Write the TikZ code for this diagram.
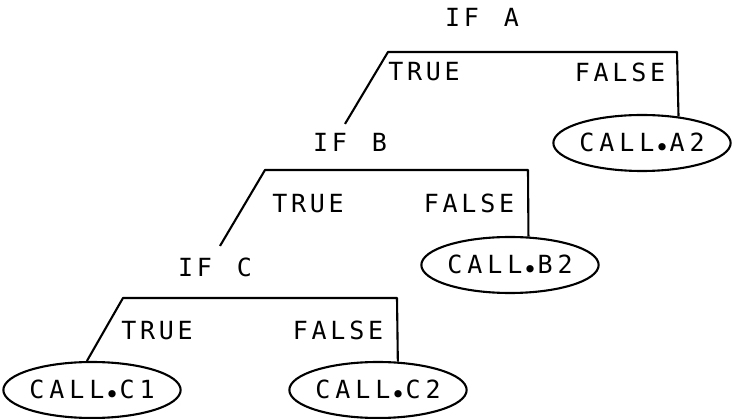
\documentclass[tikz,border=0pt]{standalone}
\usepackage{fontspec}
\usepackage{graphicx}
\newfontfamily\plotfont[LetterSpace=15]{DejaVu Sans Mono}
\newfontfamily\callfont[LetterSpace=20]{DejaVu Sans Mono}
\usetikzlibrary{shapes.geometric}
\newcommand\pdot{\raisebox{-0.17em}{•}}
\begin{document}
\begin{tikzpicture}[x=1pt,y=-1pt,line width=2.1pt,
  lbl/.style={font=\plotfont\fontsize{25}{25}\selectfont,text height=18pt,text depth=0pt,inner sep=0pt},
  callbox/.style={lbl,font=\callfont\fontsize{25}{25}\selectfont,draw,ellipse,minimum width=170pt,minimum height=56pt}]
\useasboundingbox (0,0) rectangle (734,419);
% decision labels
\node[lbl] (ifA) at (482,18) {IF\hspace{6pt} A};
\node[lbl] (ifB) at (350,143) {IF\hspace{6pt} B};
\node[lbl] (ifC) at (215,268) {IF\hspace{6pt} C};
% branch labels
\node[lbl] (tA) at (424,72) {TRUE};
\node[lbl] (fA) at (620,73) {FALSE};
\node[lbl] (tB) at (308,204) {TRUE};
\node[lbl] (fB) at (469,204) {FALSE};
\node[lbl] (tC) at (157,331) {TRUE};
\node[lbl] (fC) at (338,331) {FALSE};
% calls
\node[callbox] (cA2) at (642,143) {CALL\pdot A2};
\node[callbox] (cB2) at (510,265) {CALL\pdot B2};
\node[callbox] (cC1) at (92,390) {CALL\pdot C1};
\node[callbox] (cC2) at (378,390) {CALL\pdot C2};
% bar corners
\coordinate (aL) at (388,52);
\coordinate (aR) at (677,52);
\coordinate (bL) at (265,170);
\coordinate (bR) at (528,170);
\coordinate (cL) at (123,298);
\coordinate (cR) at (397,298);
% connectors
\draw[line join=round] ([shift={(-5,-9)}]ifB.north) -- (aL) -- (aR) -- (cA2.36);
\draw[line join=round] ([shift={(5,-12)}]ifC.north) -- (bL) -- (bR) -- (cB2.57);
\draw[line join=round] (cC1.100) -- (cL) -- (cR) -- (cC2.55);
\end{tikzpicture}
\end{document}
